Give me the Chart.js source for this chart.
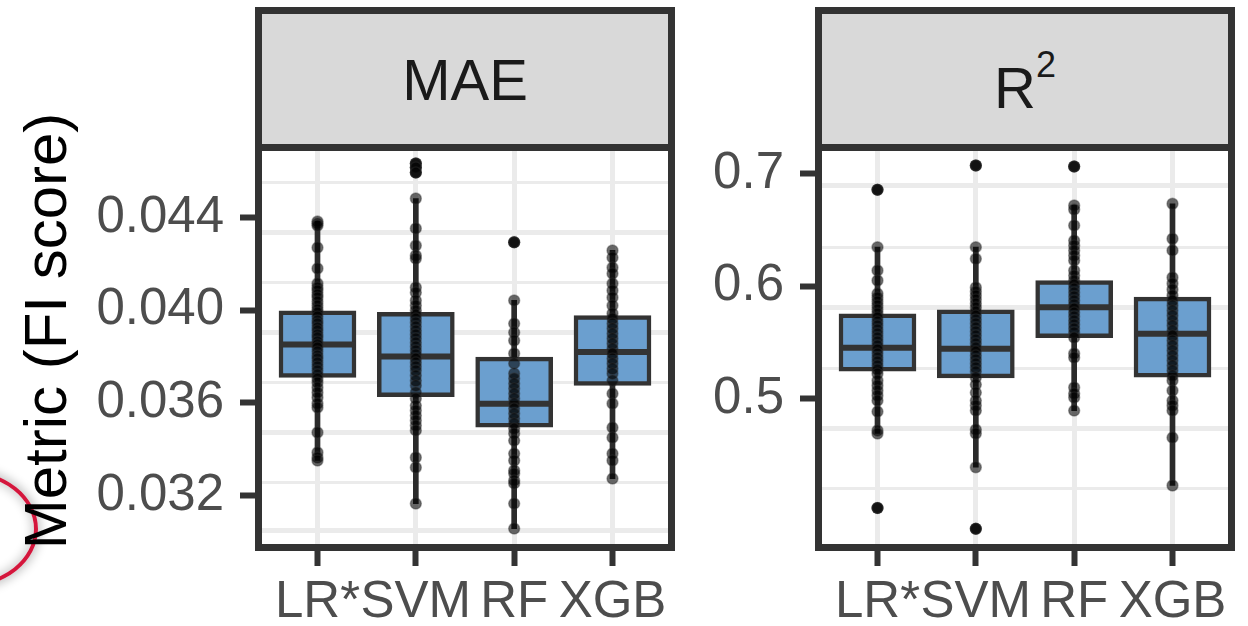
<!DOCTYPE html>
<html>
<head>
<meta charset="utf-8">
<style>
  body { margin: 0; background: #fff; overflow: hidden; }
  .wrap { position: relative; width: 1248px; height: 626px; overflow: hidden; font-family: 'Liberation Sans', Arial, sans-serif; }
  canvas { position: absolute; top: 0; }
  #c1 { left: 0; }
  #c2 { left: 690px; }
  .strip { position: absolute; top: 7px; width: 420px; height: 144px; box-sizing: border-box; border: 7px solid #333; background: #d9d9d9; }
  .strip span.lab { position: absolute; left: 0; right: 0; text-align: center; font-size: 58px; line-height: 58px; color: #1a1a1a; }
  .strip .sup { font-size: 36px; position: relative; top: -31px; }
  .frame { position: absolute; top: 144px; width: 420px; height: 407px; box-sizing: border-box; border: 7px solid #333; pointer-events: none; }
  .ytitle { position: absolute; left: -204px; top: 301px; width: 500px; height: 60px; line-height: 60px; font-size: 60px; text-align: center; white-space: nowrap; color: #000; transform: rotate(-90deg); }
  .mark { position: absolute; left: -110px; top: 470px; width: 148px; height: 118px; box-sizing: border-box; border: 4px solid #d4163c; border-radius: 50%; box-shadow: 0 0 10px 3px rgba(0,0,0,0.22), inset 0 0 10px 3px rgba(0,0,0,0.18); }
</style>
</head>
<body>
<div class="wrap">
  <div class="mark"></div>
  <div class="ytitle">Metric (FI score)</div>
  <canvas id="c1" width="690" height="626"></canvas>
  <canvas id="c2" width="558" height="626"></canvas>
  <div class="strip" style="left:255px"><span class="lab" style="top:37px">MAE</span></div>
  <div class="strip" style="left:815px"><span class="lab" style="top:45px">R<span class="sup">2</span></span></div>
  <div class="frame" style="left:255px"></div>
  <div class="frame" style="left:815px"></div>
</div>

<script src="https://cdn.jsdelivr.net/npm/chart.js@4.4.0/dist/chart.umd.min.js"></script>
<script>
    const models = ['LR*', 'SVM', 'RF', 'XGB']

    // MAE panel
    const maeTicks = [0.032, 0.036, 0.040, 0.044]
    const maeGridMajor = [0.04335, 0.03904, 0.03472, 0.03049]
    const maeGridMinor = [0.04551, 0.04119, 0.03688, 0.03256]
    const maeQ1 = [0.03710, 0.03627, 0.03495, 0.03675]
    const maeMed = [0.03852, 0.03800, 0.03596, 0.03819]
    const maeQ3 = [0.03997, 0.03991, 0.03797, 0.03977]
    const maeLo = [0.03351, 0.03165, 0.03057, 0.03273]
    const maeHi = [0.04383, 0.04482, 0.04042, 0.04258]
    const maeLR = [0.04383, 0.04374, 0.04365, 0.04270, 0.04180, 0.04115, 0.04098, 0.04085, 0.04068, 0.04055,
        0.04037, 0.04020, 0.04003, 0.03990, 0.03973, 0.03955, 0.03942, 0.03925, 0.03912, 0.03895,
        0.03882, 0.03865, 0.03852, 0.03839, 0.03822, 0.03804, 0.03791, 0.03774, 0.03757, 0.03740,
        0.03722, 0.03705, 0.03688, 0.03666, 0.03645, 0.03623, 0.03597, 0.03580, 0.03472, 0.03386,
        0.03364, 0.03351]
    const maeSVM = [0.04633, 0.04616, 0.04594, 0.04482, 0.04353, 0.04279, 0.04236, 0.04223, 0.04098, 0.04076,
        0.04042, 0.04020, 0.03999, 0.03981, 0.03964, 0.03947, 0.03929, 0.03912, 0.03895, 0.03878,
        0.03860, 0.03843, 0.03826, 0.03809, 0.03791, 0.03774, 0.03757, 0.03740, 0.03718, 0.03696,
        0.03675, 0.03645, 0.03619, 0.03588, 0.03567, 0.03545, 0.03524, 0.03502, 0.03481, 0.03364,
        0.03321, 0.03165]
    const maeRF = [0.04293, 0.04042, 0.03942, 0.03904, 0.03869, 0.03813, 0.03770, 0.03727, 0.03705, 0.03683,
        0.03662, 0.03640, 0.03619, 0.03597, 0.03575, 0.03554, 0.03532, 0.03511, 0.03489, 0.03468,
        0.03437, 0.03381, 0.03351, 0.03308, 0.03295, 0.03265, 0.03252, 0.03165, 0.03057]
    const maeXGB = [0.04258, 0.04227, 0.04184, 0.04158, 0.04115, 0.04085, 0.04055, 0.04020, 0.03986, 0.03964,
        0.03942, 0.03921, 0.03899, 0.03878, 0.03856, 0.03834, 0.03813, 0.03791, 0.03770, 0.03748,
        0.03727, 0.03696, 0.03640, 0.03597, 0.03493, 0.03450, 0.03381, 0.03351, 0.03273]

    // R2 panel
    const r2Ticks = [0.5, 0.6, 0.7]
    const r2GridMajor = [0.6893, 0.5809, 0.4733]
    const r2GridMinor = [0.6342, 0.5267, 0.4200]
    const r2Q1 = [0.5243, 0.5184, 0.5540, 0.5190]
    const r2Med = [0.5451, 0.5442, 0.5812, 0.5575]
    const r2Q3 = [0.5753, 0.5788, 0.6049, 0.5901]
    const r2Lo = [0.4689, 0.4389, 0.4893, 0.4227]
    const r2Hi = [0.6345, 0.6345, 0.6716, 0.6731]
    const r2LR = [0.6855, 0.6345, 0.6138, 0.6049, 0.5933, 0.5898, 0.5862, 0.5827, 0.5791, 0.5756,
        0.5720, 0.5684, 0.5649, 0.5613, 0.5578, 0.5542, 0.5507, 0.5471, 0.5436, 0.5400,
        0.5364, 0.5329, 0.5293, 0.5258, 0.5222, 0.5160, 0.5116, 0.5071, 0.5027, 0.4982,
        0.4884, 0.4716, 0.4689, 0.4028]
    const r2SVM = [0.7071, 0.6345, 0.6242, 0.5987, 0.5951, 0.5916, 0.5880, 0.5844, 0.5809, 0.5773,
        0.5738, 0.5702, 0.5667, 0.5631, 0.5596, 0.5560, 0.5524, 0.5489, 0.5453, 0.5418,
        0.5382, 0.5347, 0.5311, 0.5276, 0.5240, 0.5187, 0.5124, 0.5053, 0.4982, 0.4938,
        0.4893, 0.4724, 0.4689, 0.4389, 0.3842]
    const r2RF = [0.7062, 0.6716, 0.6680, 0.6538, 0.6404, 0.6360, 0.6316, 0.6271, 0.6227, 0.6138,
        0.6093, 0.6049, 0.6013, 0.5978, 0.5942, 0.5907, 0.5871, 0.5836, 0.5800, 0.5764,
        0.5729, 0.5693, 0.5658, 0.5622, 0.5587, 0.5542, 0.5400, 0.5364, 0.5098, 0.5044,
        0.5009, 0.4893]
    const r2XGB = [0.6731, 0.6420, 0.6316, 0.6076, 0.6022, 0.5969, 0.5916, 0.5871, 0.5827, 0.5782,
        0.5738, 0.5693, 0.5649, 0.5604, 0.5560, 0.5516, 0.5471, 0.5427, 0.5382, 0.5338,
        0.5293, 0.5249, 0.5204, 0.5160, 0.5071, 0.4982, 0.4938, 0.4893, 0.4653, 0.4227]

    Chart.defaults.font.family = "'Liberation Sans', Arial, sans-serif"

    // background grid lines (they don't sit on the tick values in the original)
    const hGrid = {
        id: 'hGrid',
        beforeDatasetsDraw(chart, args, opts) {
            const {ctx, chartArea, scales} = chart
            ctx.save()
            ctx.strokeStyle = '#ebebeb'
            const line = (v, w) => {
                const y = scales.y.getPixelForValue(v)
                ctx.lineWidth = w
                ctx.beginPath()
                ctx.moveTo(chartArea.left, y)
                ctx.lineTo(chartArea.right, y)
                ctx.stroke()
            }
            opts.minor.forEach(v => line(v, 3))
            opts.major.forEach(v => line(v, 5))
            ctx.restore()
        }
    }

    function makeChart(id, groups, q1, med, q3, lo, hi, yMin, yMax, yTicks, digits, gMajor, gMinor, yWidth, padRight) {
        const idx = models.map((m, i) => i)
        const pts = groups.flatMap((g, i) => g.map(v => ({x: i, y: v})))
        const outl = groups.flatMap((g, i) => g.filter(v => v > hi[i] + 1e-9 || v < lo[i] - 1e-9).map(v => ({x: i, y: v})))

        return new Chart(document.getElementById(id), {
            type: 'bar',
            data: {
                datasets: [{
                    type: 'bar',
                    data: idx.map(i => ({x: i, y: [lo[i], hi[i]]})),
                    backgroundColor: '#2b2b2b',
                    barThickness: 5,
                    grouped: false,
                    order: 5
                }, {
                    type: 'bar',
                    data: idx.map(i => ({x: i, y: [q1[i], q3[i]]})),
                    backgroundColor: '#6b9fcf',
                    borderColor: '#333',
                    borderWidth: 4.5,
                    borderSkipped: false,
                    barThickness: 77,
                    grouped: false,
                    order: 4
                }, {
                    type: 'scatter',
                    data: idx.map(i => ({x: i, y: med[i]})),
                    pointStyle: 'line',
                    pointRadius: 38,
                    borderColor: '#333',
                    borderWidth: 6,
                    order: 3
                }, {
                    type: 'scatter',
                    data: outl,
                    pointRadius: 6,
                    backgroundColor: '#2b2b2b',
                    borderWidth: 0,
                    order: 2
                }, {
                    type: 'scatter',
                    data: pts,
                    pointRadius: 5.5,
                    backgroundColor: 'rgba(0,0,0,0.58)',
                    borderColor: 'rgba(50,50,50,0.4)',
                    borderWidth: 1.5,
                    order: 1
                }]
            },
            options: {
                responsive: false,
                animation: false,
                events: [],
                layout: {autoPadding: false, padding: {top: 147.5, right: padRight, left: 0, bottom: 0}},
                plugins: {
                    legend: {display: false},
                    tooltip: {enabled: false},
                    hGrid: {major: gMajor, minor: gMinor}
                },
                scales: {
                    x: {
                        type: 'linear',
                        min: -0.6,
                        max: 3.6,
                        offset: false,
                        afterBuildTicks: s => { s.ticks = idx.map(v => ({value: v})) },
                        afterFit: s => { s.height = 78.5 },
                        ticks: {
                            callback: v => models[v],
                            color: '#4d4d4d',
                            font: {size: 51},
                            padding: 6,
                            maxRotation: 0,
                            autoSkip: false
                        },
                        grid: {color: '#ebebeb', lineWidth: 5, offset: false, tickColor: '#333', tickWidth: 6, tickLength: 18.5},
                        border: {display: false}
                    },
                    y: {
                        type: 'linear',
                        min: yMin,
                        max: yMax,
                        afterBuildTicks: s => { s.ticks = yTicks.map(v => ({value: v})) },
                        afterFit: s => { s.width = yWidth },
                        ticks: {
                            callback: v => v.toFixed(digits),
                            color: '#4d4d4d',
                            font: {size: 51},
                            padding: 16
                        },
                        grid: {drawOnChartArea: false, tickColor: '#333', tickWidth: 6, tickLength: 18.5},
                        border: {display: false}
                    }
                }
            },
            plugins: [hGrid]
        })
    }

    makeChart('c1', [maeLR, maeSVM, maeRF, maeXGB], maeQ1, maeMed, maeQ3, maeLo, maeHi,
        0.029755, 0.047022, maeTicks, 3, maeGridMajor, maeGridMinor, 258.5, 18.5)
    makeChart('c2', [r2LR, r2SVM, r2RF, r2XGB], r2Q1, r2Med, r2Q3, r2Lo, r2Hi,
        0.3676, 0.7231, r2Ticks, 1, r2GridMajor, r2GridMinor, 128.5, 16.5)
</script>
</body>
</html>
